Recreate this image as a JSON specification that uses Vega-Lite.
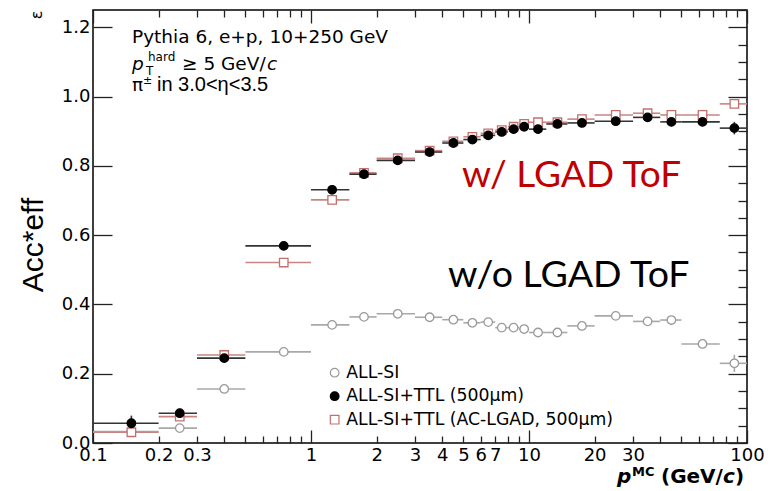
{
  "$schema": "https://vega.github.io/schema/vega-lite/v6.json",
  "width": 654,
  "height": 433,
  "autosize": "none",
  "padding": {"left": 93, "top": 10, "right": 28, "bottom": 48},
  "background": "white",
  "config": {
    "view": {"stroke": "#000000", "strokeWidth": 1.5},
    "font": "DejaVu Sans",
    "legend": {"orient": "none", "legendX": 233, "legendY": 354, "padding": 0, "labelFont": "DejaVu Sans", "labelFontSize": 17.3, "labelColor": "#000000", "labelLimit": 500, "rowPadding": 5.5, "labelOffset": 3, "symbolStrokeWidth": 1.2, "symbolSize": 75}
  },
  "datasets": {
    "pts": [
      {"series": "ALL-SI", "x": 0.15, "xlo": 0.1, "xhi": 0.2, "y": 0.033, "err": 0.006},
      {"series": "ALL-SI", "x": 0.25, "xlo": 0.2, "xhi": 0.3, "y": 0.043, "err": 0.008},
      {"series": "ALL-SI", "x": 0.4, "xlo": 0.3, "xhi": 0.5, "y": 0.156, "err": 0.006},
      {"series": "ALL-SI", "x": 0.75, "xlo": 0.5, "xhi": 1, "y": 0.263, "err": 0.004},
      {"series": "ALL-SI", "x": 1.25, "xlo": 1, "xhi": 1.5, "y": 0.341, "err": 0.004},
      {"series": "ALL-SI", "x": 1.75, "xlo": 1.5, "xhi": 2, "y": 0.364, "err": 0.004},
      {"series": "ALL-SI", "x": 2.5, "xlo": 2, "xhi": 3, "y": 0.373, "err": 0.004},
      {"series": "ALL-SI", "x": 3.5, "xlo": 3, "xhi": 4, "y": 0.363, "err": 0.004},
      {"series": "ALL-SI", "x": 4.5, "xlo": 4, "xhi": 5, "y": 0.356, "err": 0.004},
      {"series": "ALL-SI", "x": 5.5, "xlo": 5, "xhi": 6, "y": 0.347, "err": 0.004},
      {"series": "ALL-SI", "x": 6.5, "xlo": 6, "xhi": 7, "y": 0.349, "err": 0.004},
      {"series": "ALL-SI", "x": 7.5, "xlo": 7, "xhi": 8, "y": 0.333, "err": 0.004},
      {"series": "ALL-SI", "x": 8.5, "xlo": 8, "xhi": 9, "y": 0.333, "err": 0.004},
      {"series": "ALL-SI", "x": 9.5, "xlo": 9, "xhi": 10, "y": 0.329, "err": 0.004},
      {"series": "ALL-SI", "x": 11, "xlo": 10, "xhi": 12, "y": 0.319, "err": 0.004},
      {"series": "ALL-SI", "x": 13.5, "xlo": 12, "xhi": 15, "y": 0.319, "err": 0.004},
      {"series": "ALL-SI", "x": 17.5, "xlo": 15, "xhi": 20, "y": 0.338, "err": 0.005},
      {"series": "ALL-SI", "x": 25, "xlo": 20, "xhi": 30, "y": 0.367, "err": 0.005},
      {"series": "ALL-SI", "x": 35, "xlo": 30, "xhi": 40, "y": 0.351, "err": 0.006},
      {"series": "ALL-SI", "x": 45, "xlo": 40, "xhi": 50, "y": 0.355, "err": 0.007},
      {"series": "ALL-SI", "x": 62.5, "xlo": 50, "xhi": 75, "y": 0.286, "err": 0.008},
      {"series": "ALL-SI", "x": 87.5, "xlo": 75, "xhi": 100, "y": 0.23, "err": 0.025},
      {"series": "ALL-SI+TTL (AC-LGAD, 500µm)", "x": 0.15, "xlo": 0.1, "xhi": 0.2, "y": 0.031, "err": 0.01},
      {"series": "ALL-SI+TTL (AC-LGAD, 500µm)", "x": 0.25, "xlo": 0.2, "xhi": 0.3, "y": 0.076, "err": 0.01},
      {"series": "ALL-SI+TTL (AC-LGAD, 500µm)", "x": 0.4, "xlo": 0.3, "xhi": 0.5, "y": 0.254, "err": 0.006},
      {"series": "ALL-SI+TTL (AC-LGAD, 500µm)", "x": 0.75, "xlo": 0.5, "xhi": 1, "y": 0.521, "err": 0.005},
      {"series": "ALL-SI+TTL (AC-LGAD, 500µm)", "x": 1.25, "xlo": 1, "xhi": 1.5, "y": 0.702, "err": 0.004},
      {"series": "ALL-SI+TTL (AC-LGAD, 500µm)", "x": 1.75, "xlo": 1.5, "xhi": 2, "y": 0.78, "err": 0.004},
      {"series": "ALL-SI+TTL (AC-LGAD, 500µm)", "x": 2.5, "xlo": 2, "xhi": 3, "y": 0.822, "err": 0.004},
      {"series": "ALL-SI+TTL (AC-LGAD, 500µm)", "x": 3.5, "xlo": 3, "xhi": 4, "y": 0.844, "err": 0.004},
      {"series": "ALL-SI+TTL (AC-LGAD, 500µm)", "x": 4.5, "xlo": 4, "xhi": 5, "y": 0.871, "err": 0.004},
      {"series": "ALL-SI+TTL (AC-LGAD, 500µm)", "x": 5.5, "xlo": 5, "xhi": 6, "y": 0.884, "err": 0.004},
      {"series": "ALL-SI+TTL (AC-LGAD, 500µm)", "x": 6.5, "xlo": 6, "xhi": 7, "y": 0.894, "err": 0.004},
      {"series": "ALL-SI+TTL (AC-LGAD, 500µm)", "x": 7.5, "xlo": 7, "xhi": 8, "y": 0.903, "err": 0.004},
      {"series": "ALL-SI+TTL (AC-LGAD, 500µm)", "x": 8.5, "xlo": 8, "xhi": 9, "y": 0.913, "err": 0.004},
      {"series": "ALL-SI+TTL (AC-LGAD, 500µm)", "x": 9.5, "xlo": 9, "xhi": 10, "y": 0.921, "err": 0.004},
      {"series": "ALL-SI+TTL (AC-LGAD, 500µm)", "x": 11, "xlo": 10, "xhi": 12, "y": 0.926, "err": 0.004},
      {"series": "ALL-SI+TTL (AC-LGAD, 500µm)", "x": 13.5, "xlo": 12, "xhi": 15, "y": 0.926, "err": 0.004},
      {"series": "ALL-SI+TTL (AC-LGAD, 500µm)", "x": 17.5, "xlo": 15, "xhi": 20, "y": 0.935, "err": 0.004},
      {"series": "ALL-SI+TTL (AC-LGAD, 500µm)", "x": 25, "xlo": 20, "xhi": 30, "y": 0.947, "err": 0.004},
      {"series": "ALL-SI+TTL (AC-LGAD, 500µm)", "x": 35, "xlo": 30, "xhi": 40, "y": 0.952, "err": 0.004},
      {"series": "ALL-SI+TTL (AC-LGAD, 500µm)", "x": 45, "xlo": 40, "xhi": 50, "y": 0.947, "err": 0.005},
      {"series": "ALL-SI+TTL (AC-LGAD, 500µm)", "x": 62.5, "xlo": 50, "xhi": 75, "y": 0.947, "err": 0.005},
      {"series": "ALL-SI+TTL (AC-LGAD, 500µm)", "x": 87.5, "xlo": 75, "xhi": 100, "y": 0.979, "err": 0.008},
      {"series": "ALL-SI+TTL (500µm)", "x": 0.15, "xlo": 0.1, "xhi": 0.2, "y": 0.057, "err": 0.022},
      {"series": "ALL-SI+TTL (500µm)", "x": 0.25, "xlo": 0.2, "xhi": 0.3, "y": 0.086, "err": 0.013},
      {"series": "ALL-SI+TTL (500µm)", "x": 0.4, "xlo": 0.3, "xhi": 0.5, "y": 0.245, "err": 0.01},
      {"series": "ALL-SI+TTL (500µm)", "x": 0.75, "xlo": 0.5, "xhi": 1, "y": 0.569, "err": 0.005},
      {"series": "ALL-SI+TTL (500µm)", "x": 1.25, "xlo": 1, "xhi": 1.5, "y": 0.731, "err": 0.004},
      {"series": "ALL-SI+TTL (500µm)", "x": 1.75, "xlo": 1.5, "xhi": 2, "y": 0.776, "err": 0.004},
      {"series": "ALL-SI+TTL (500µm)", "x": 2.5, "xlo": 2, "xhi": 3, "y": 0.816, "err": 0.004},
      {"series": "ALL-SI+TTL (500µm)", "x": 3.5, "xlo": 3, "xhi": 4, "y": 0.84, "err": 0.004},
      {"series": "ALL-SI+TTL (500µm)", "x": 4.5, "xlo": 4, "xhi": 5, "y": 0.866, "err": 0.004},
      {"series": "ALL-SI+TTL (500µm)", "x": 5.5, "xlo": 5, "xhi": 6, "y": 0.876, "err": 0.004},
      {"series": "ALL-SI+TTL (500µm)", "x": 6.5, "xlo": 6, "xhi": 7, "y": 0.888, "err": 0.004},
      {"series": "ALL-SI+TTL (500µm)", "x": 7.5, "xlo": 7, "xhi": 8, "y": 0.898, "err": 0.004},
      {"series": "ALL-SI+TTL (500µm)", "x": 8.5, "xlo": 8, "xhi": 9, "y": 0.906, "err": 0.004},
      {"series": "ALL-SI+TTL (500µm)", "x": 9.5, "xlo": 9, "xhi": 10, "y": 0.913, "err": 0.004},
      {"series": "ALL-SI+TTL (500µm)", "x": 11, "xlo": 10, "xhi": 12, "y": 0.906, "err": 0.004},
      {"series": "ALL-SI+TTL (500µm)", "x": 13.5, "xlo": 12, "xhi": 15, "y": 0.921, "err": 0.004},
      {"series": "ALL-SI+TTL (500µm)", "x": 17.5, "xlo": 15, "xhi": 20, "y": 0.924, "err": 0.004},
      {"series": "ALL-SI+TTL (500µm)", "x": 25, "xlo": 20, "xhi": 30, "y": 0.929, "err": 0.004},
      {"series": "ALL-SI+TTL (500µm)", "x": 35, "xlo": 30, "xhi": 40, "y": 0.94, "err": 0.005},
      {"series": "ALL-SI+TTL (500µm)", "x": 45, "xlo": 40, "xhi": 50, "y": 0.927, "err": 0.006},
      {"series": "ALL-SI+TTL (500µm)", "x": 62.5, "xlo": 50, "xhi": 75, "y": 0.927, "err": 0.007},
      {"series": "ALL-SI+TTL (500µm)", "x": 87.5, "xlo": 75, "xhi": 100, "y": 0.909, "err": 0.018}
    ]
  },
  "layer": [
    {
      "layer": [
        {
          "data": {"name": "pts"},
          "mark": {"type": "rule", "strokeWidth": 1.6},
          "encoding": {
            "x": {"field": "xlo", "type": "quantitative", "title": null,
              "scale": {"type": "log", "domain": [0.1, 100], "nice": false},
              "axis": {
                "orient": "bottom", "title": null, "domain": false, "grid": false,
                "values": [0.1,0.2,0.3,0.4,0.5,0.6,0.7,0.8,0.9,1,2,3,4,5,6,7,8,9,10,20,30,40,50,60,70,80,90,100],
                "labelExpr": "indexof([0.1,0.2,0.3,1,2,3,4,5,6,7,10,20,30,100], datum.value) >= 0 ? format(datum.value, '~g') : ''",
                "labelFont": "DejaVu Sans", "labelFontSize": 18, "labelColor": "#000000",
                "labelFlush": false, "labelOverlap": false, "labelBound": false,
                "tickSize": {"condition": {"test": "indexof([0.1,1,10,100], datum.value) >= 0", "value": -13}, "value": -7},
                "labelPadding": {"condition": {"test": "indexof([0.1,1,10,100], datum.value) >= 0", "value": 16}, "value": 10},
                "tickColor": "#222222", "tickWidth": 1.3
              }
            },
            "x2": {"field": "xhi"},
            "y": {"field": "y", "type": "quantitative", "title": null,
              "scale": {"domain": [0, 1.25], "nice": false, "zero": false},
              "axis": {
                "orient": "left", "title": null, "domain": false, "grid": false,
                "values": [0,0.05,0.1,0.15,0.2,0.25,0.3,0.35,0.4,0.45,0.5,0.55,0.6,0.65,0.7,0.75,0.8,0.85,0.9,0.95,1,1.05,1.1,1.15,1.2,1.25],
                "labelExpr": "indexof([0,0.2,0.4,0.6,0.8,1,1.2], datum.value) >= 0 ? format(datum.value, '.1f') : ''",
                "labelFont": "DejaVu Sans", "labelFontSize": 18, "labelColor": "#000000",
                "labelFlush": false, "labelOverlap": false, "labelBound": false,
                "tickSize": {"condition": {"test": "indexof([0,0.2,0.4,0.6,0.8,1,1.2], datum.value) >= 0", "value": -19}, "value": -9},
                "labelPadding": {"condition": {"test": "indexof([0,0.2,0.4,0.6,0.8,1,1.2], datum.value) >= 0", "value": 22}, "value": 12},
                "tickColor": "#222222", "tickWidth": 1.3
              }
            },
            "color": {
              "condition": [
                {"test": "datum.series === 'ALL-SI'", "value": "#a8a8a8"},
                {"test": "datum.series === 'ALL-SI+TTL (500µm)'", "value": "#333333"}
              ],
              "value": "#c98585"
            }
          }
        },
        {
          "data": {"name": "pts"},
          "mark": {"type": "errorbar", "ticks": false, "thickness": 1.6},
          "encoding": {
            "x": {"field": "x", "type": "quantitative", "title": null},
            "y": {"field": "y", "type": "quantitative", "title": null},
            "yError": {"field": "err"},
            "color": {
              "condition": [
                {"test": "datum.series === 'ALL-SI'", "value": "#a8a8a8"},
                {"test": "datum.series === 'ALL-SI+TTL (500µm)'", "value": "#333333"}
              ],
              "value": "#c98585"
            }
          }
        },
        {
          "data": {"name": "pts"},
          "mark": {"type": "point", "strokeWidth": 1.3, "opacity": 1, "size": 72},
          "encoding": {
            "x": {"field": "x", "type": "quantitative", "title": null},
            "y": {"field": "y", "type": "quantitative", "title": null},
            "shape": {"field": "series", "type": "nominal", "title": null,
              "scale": {"domain": ["ALL-SI", "ALL-SI+TTL (500µm)", "ALL-SI+TTL (AC-LGAD, 500µm)"], "range": ["circle", "circle", "square"]}},
            "stroke": {"field": "series", "type": "nominal", "title": null,
              "scale": {"domain": ["ALL-SI", "ALL-SI+TTL (500µm)", "ALL-SI+TTL (AC-LGAD, 500µm)"], "range": ["#9a9a9a", "#000000", "#c46f6f"]}},
            "fill": {"field": "series", "type": "nominal", "title": null,
              "scale": {"domain": ["ALL-SI", "ALL-SI+TTL (500µm)", "ALL-SI+TTL (AC-LGAD, 500µm)"], "range": ["#ffffff", "#000000", "#ffffff"]}}
          }
        },
        {
          "data": {"values": [{}]},
          "mark": {"type": "text", "text": "Pythia 6, e+p, 10+250 GeV", "font": "DejaVu Sans", "fontSize": 18.5, "align": "left", "baseline": "alphabetic", "color": "#000000"},
          "encoding": {"x": {"datum": 0.151, "type": "quantitative", "title": null}, "y": {"datum": 1.155, "type": "quantitative", "title": null}}
        },
        {
          "data": {"values": [{}]},
          "mark": {"type": "text", "text": "p", "font": "DejaVu Sans", "fontStyle": "italic", "fontSize": 18.5, "align": "left", "baseline": "alphabetic", "color": "#000000"},
          "encoding": {"x": {"datum": 0.151, "type": "quantitative", "title": null}, "y": {"datum": 1.077, "type": "quantitative", "title": null}}
        },
        {
          "data": {"values": [{}]},
          "mark": {"type": "text", "text": "hard", "font": "DejaVu Sans", "fontSize": 12, "align": "left", "baseline": "alphabetic", "color": "#000000"},
          "encoding": {"x": {"datum": 0.1788, "type": "quantitative", "title": null}, "y": {"datum": 1.103, "type": "quantitative", "title": null}}
        },
        {
          "data": {"values": [{}]},
          "mark": {"type": "text", "text": "T", "font": "DejaVu Sans", "fontSize": 12, "align": "left", "baseline": "alphabetic", "color": "#000000"},
          "encoding": {"x": {"datum": 0.175, "type": "quantitative", "title": null}, "y": {"datum": 1.062, "type": "quantitative", "title": null}}
        },
        {
          "data": {"values": [{}]},
          "mark": {"type": "text", "text": "≥ 5 GeV/", "font": "DejaVu Sans", "fontSize": 18.5, "align": "left", "baseline": "alphabetic", "color": "#000000"},
          "encoding": {"x": {"datum": 0.256, "type": "quantitative", "title": null}, "y": {"datum": 1.077, "type": "quantitative", "title": null}}
        },
        {
          "data": {"values": [{}]},
          "mark": {"type": "text", "text": "c", "font": "DejaVu Sans", "fontStyle": "italic", "fontSize": 18.5, "align": "left", "baseline": "alphabetic", "color": "#000000"},
          "encoding": {"x": {"datum": 0.628, "type": "quantitative", "title": null}, "y": {"datum": 1.077, "type": "quantitative", "title": null}}
        },
        {
          "data": {"values": [{}]},
          "mark": {"type": "text", "text": "π", "font": "DejaVu Sans", "fontSize": 18.5, "align": "left", "baseline": "alphabetic", "color": "#000000"},
          "encoding": {"x": {"datum": 0.151, "type": "quantitative", "title": null}, "y": {"datum": 1.016, "type": "quantitative", "title": null}}
        },
        {
          "data": {"values": [{}]},
          "mark": {"type": "text", "text": "±", "font": "DejaVu Sans", "fontSize": 11, "align": "left", "baseline": "alphabetic", "color": "#000000"},
          "encoding": {"x": {"datum": 0.1696, "type": "quantitative", "title": null}, "y": {"datum": 1.036, "type": "quantitative", "title": null}}
        },
        {
          "data": {"values": [{}]},
          "mark": {"type": "text", "text": "in 3.0<η<3.5", "font": "Liberation Sans", "fontSize": 20, "align": "left", "baseline": "alphabetic", "color": "#000000"},
          "encoding": {"x": {"datum": 0.1966, "type": "quantitative", "title": null}, "y": {"datum": 1.016, "type": "quantitative", "title": null}}
        },
        {
          "data": {"values": [{}]},
          "mark": {"type": "text", "text": "p", "font": "DejaVu Sans", "fontStyle": "italic", "fontWeight": "bold", "fontSize": 20, "align": "left", "baseline": "alphabetic", "color": "#000000"},
          "encoding": {"x": {"datum": 25.33, "type": "quantitative", "title": null}, "y": {"datum": -0.1155, "type": "quantitative", "title": null}}
        },
        {
          "data": {"values": [{}]},
          "mark": {"type": "text", "text": "MC", "font": "DejaVu Sans", "fontWeight": "bold", "fontSize": 13, "align": "left", "baseline": "alphabetic", "color": "#000000"},
          "encoding": {"x": {"datum": 29.69, "type": "quantitative", "title": null}, "y": {"datum": -0.0953, "type": "quantitative", "title": null}}
        },
        {
          "data": {"values": [{}]},
          "mark": {"type": "text", "text": "(GeV/", "font": "DejaVu Sans", "fontWeight": "bold", "fontSize": 20, "align": "left", "baseline": "alphabetic", "color": "#000000"},
          "encoding": {"x": {"datum": 40.32, "type": "quantitative", "title": null}, "y": {"datum": -0.1155, "type": "quantitative", "title": null}}
        },
        {
          "data": {"values": [{}]},
          "mark": {"type": "text", "text": "c", "font": "DejaVu Sans", "fontStyle": "italic", "fontWeight": "bold", "fontSize": 20, "align": "left", "baseline": "alphabetic", "color": "#000000"},
          "encoding": {"x": {"datum": 77.6, "type": "quantitative", "title": null}, "y": {"datum": -0.1155, "type": "quantitative", "title": null}}
        },
        {
          "data": {"values": [{}]},
          "mark": {"type": "text", "text": ")", "font": "DejaVu Sans", "fontWeight": "bold", "fontSize": 20, "align": "left", "baseline": "alphabetic", "color": "#000000"},
          "encoding": {"x": {"datum": 88.1, "type": "quantitative", "title": null}, "y": {"datum": -0.1155, "type": "quantitative", "title": null}}
        },
        {
          "data": {"values": [{}]},
          "mark": {"type": "text", "text": "ε", "font": "DejaVu Sans", "fontSize": 16, "angle": 270, "align": "center", "baseline": "middle", "color": "#000000"},
          "encoding": {"x": {"datum": 0.0553, "type": "quantitative", "title": null}, "y": {"datum": 1.2356, "type": "quantitative", "title": null}}
        },
        {
          "data": {"values": [{}]},
          "mark": {"type": "text", "text": "Acc*eff", "font": "Liberation Sans", "fontSize": 30, "angle": 270, "align": "center", "baseline": "alphabetic", "color": "#000000"},
          "encoding": {"x": {"datum": 0.05897, "type": "quantitative", "title": null}, "y": {"datum": 0.5716, "type": "quantitative", "title": null}}
        },
        {
          "data": {"values": [{}]},
          "mark": {"type": "text", "text": "w/ LGAD ToF", "font": "Lato", "fontSize": 37, "align": "left", "baseline": "alphabetic", "color": "#c00000"},
          "encoding": {"x": {"datum": 4.93, "type": "quantitative", "title": null}, "y": {"datum": 0.739, "type": "quantitative", "title": null}}
        },
        {
          "data": {"values": [{}]},
          "mark": {"type": "text", "text": "w/o LGAD ToF", "font": "Lato", "fontSize": 37.5, "align": "left", "baseline": "alphabetic", "color": "#000000"},
          "encoding": {"x": {"datum": 4.25, "type": "quantitative", "title": null}, "y": {"datum": 0.45, "type": "quantitative", "title": null}}
        }
      ]
    },
    {
      "data": {"name": "pts"},
      "mark": {"type": "point", "opacity": 0},
      "encoding": {
        "x": {"field": "x", "type": "quantitative", "title": null,
          "scale": {"type": "log", "domain": [0.1, 100], "nice": false},
          "axis": {
            "orient": "top", "title": null, "domain": false, "grid": false, "labels": false,
            "values": [0.1,0.2,0.3,0.4,0.5,0.6,0.7,0.8,0.9,1,2,3,4,5,6,7,8,9,10,20,30,40,50,60,70,80,90,100],
            "tickSize": {"condition": {"test": "indexof([0.1,1,10,100], datum.value) >= 0", "value": -13}, "value": -7},
            "tickColor": "#222222", "tickWidth": 1.3
          }
        },
        "y": {"field": "y", "type": "quantitative", "title": null,
          "scale": {"domain": [0, 1.25], "nice": false, "zero": false},
          "axis": {
            "orient": "right", "title": null, "domain": false, "grid": false, "labels": false,
            "values": [0,0.05,0.1,0.15,0.2,0.25,0.3,0.35,0.4,0.45,0.5,0.55,0.6,0.65,0.7,0.75,0.8,0.85,0.9,0.95,1,1.05,1.1,1.15,1.2,1.25],
            "tickSize": {"condition": {"test": "indexof([0,0.2,0.4,0.6,0.8,1,1.2], datum.value) >= 0", "value": -19}, "value": -9},
            "tickColor": "#222222", "tickWidth": 1.3
          }
        }
      }
    }
  ],
  "resolve": {"axis": {"x": "independent", "y": "independent"}}
}
